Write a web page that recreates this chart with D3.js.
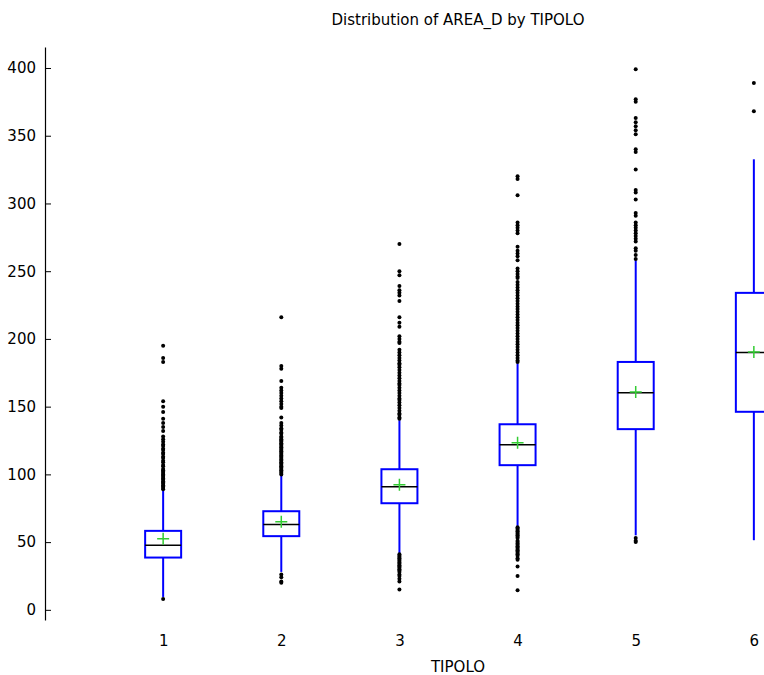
<!DOCTYPE html>
<html>
<head>
<meta charset="utf-8">
<script src="https://cdn.jsdelivr.net/npm/d3@7"></script>
<style>
  body { margin: 0; background: #fff; }
  svg { font-family: "DejaVu Sans", Verdana, sans-serif; }
</style>
</head>
<body>
<svg id="plot" width="764" height="675"></svg>
<script>
// values
const categories = ['1', '2', '3', '4', '5', '6'];
const q1 = [38.6, 54.4, 78.7, 106.8, 133.4, 146.2];
const medians = [47.7, 63, 90.8, 121.8, 160.2, 190];
const q3 = [58.3, 72.8, 103.8, 137, 183, 234];
const means = [52.4, 65, 92.3, 123.3, 160.8, 190.4];
const whiskerLow = [9.5, 28, 42, 62, 55, 51.4];
const whiskerHigh = [88, 99.5, 140, 182, 258, 332.6];
const outliers = [
  [195, 186, 183, 154, 150, 146, 141, 138, 135, 132, 128, 126, 124, 122, 121,
   119, 118, 116, 115, 113, 112, 110, 109, 107, 106, 104, 103, 102, 101, 100,
   99, 98, 97, 96, 95, 94, 93, 92, 91, 90, 89, 8],
  [216, 180, 178, 169, 164, 162, 160, 158, 156, 154, 152, 150, 149, 142, 138,
   136, 134, 133, 131, 130, 128, 127, 126, 125, 124, 123, 122, 121, 120, 119,
   118, 117, 116, 115, 114, 113, 112, 111, 110, 109, 108, 107, 106, 105, 104,
   103, 102, 101, 100, 26, 24, 21, 20],
  [270, 250, 247, 239, 236, 234, 232, 228, 216, 212, 209, 202, 200, 198, 197,
   192, 190, 188, 186, 184, 182, 181, 179, 177, 175, 173, 171, 169, 167, 166,
   164, 162, 160, 158, 156, 155, 153, 151, 149, 147, 145, 144, 142, 141,
   41, 40, 39, 38, 37, 36, 35, 34, 33, 32, 31, 30, 29, 28, 26, 25, 23, 21, 15],
  [320, 318, 306, 286, 284, 282, 280, 278, 268, 265, 263, 261, 258, 252, 250,
   248, 246, 245, 242, 240, 238, 236, 234, 232, 230, 228, 226, 224, 222, 220,
   218, 216, 214, 212, 210, 208, 206, 204, 202, 200, 198, 196, 194, 192, 190,
   188, 186, 184, 183,
   61, 60, 59, 58, 57, 56, 55, 54, 53, 51, 50, 49, 48, 47, 46, 45, 44, 43, 42,
   41, 40, 38, 37, 32, 25, 14.5],
  [399, 377, 375, 363, 360, 357, 354, 351, 340, 338, 325, 310, 308, 303, 293,
   291, 286, 284, 282, 280, 278, 276, 274, 272, 267, 265, 262, 259, 53, 51, 50],
  [389, 368]
];
const yTicks = [0, 50, 100, 150, 200, 250, 300, 350, 400];

const svg = d3.select('#plot');
const fontSize = 15;

const x = d3.scalePoint()
  .domain(categories)
  .range([45, 872])
  .padding(1);

const y = d3.scaleLinear()
  .domain([-7.5, 415.5])
  .range([620, 47]);

const boxWidth = 36;

// y axis, ticks pointing inward
const yAxis = svg.append('g')
  .attr('transform', 'translate(45,0)')
  .call(d3.axisLeft(y).tickValues(yTicks).tickSize(-6).tickSizeOuter(0).tickPadding(9));
yAxis.attr('font-family', null).attr('font-size', fontSize);
yAxis.selectAll('text').attr('fill', '#000');
yAxis.select('.domain').attr('stroke', '#000').attr('stroke-width', 1.2);
yAxis.selectAll('.tick line').attr('stroke', '#000');

// x axis labels only
const xAxis = svg.append('g')
  .attr('transform', 'translate(0,620)')
  .call(d3.axisBottom(x).tickSize(0).tickPadding(15));
xAxis.attr('font-family', null).attr('font-size', fontSize);
xAxis.select('.domain').remove();
xAxis.selectAll('text').attr('fill', '#000');

const boxes = categories.map((c, i) => ({
  c: c, q1: q1[i], med: medians[i], q3: q3[i], mean: means[i],
  lo: whiskerLow[i], hi: whiskerHigh[i], out: outliers[i]
}));

const g = svg.append('g');

// whiskers
g.selectAll('line.whisk-lo')
  .data(boxes).enter().append('line')
  .attr('x1', d => x(d.c)).attr('x2', d => x(d.c))
  .attr('y1', d => y(d.q1)).attr('y2', d => y(d.lo))
  .attr('stroke', '#0000ff').attr('stroke-width', 2);
g.selectAll('line.whisk-hi')
  .data(boxes).enter().append('line')
  .attr('x1', d => x(d.c)).attr('x2', d => x(d.c))
  .attr('y1', d => y(d.q3)).attr('y2', d => y(d.hi))
  .attr('stroke', '#0000ff').attr('stroke-width', 2);

// boxes
g.selectAll('rect')
  .data(boxes).enter().append('rect')
  .attr('x', d => x(d.c) - boxWidth / 2)
  .attr('width', boxWidth)
  .attr('y', d => y(d.q3))
  .attr('height', d => y(d.q1) - y(d.q3))
  .attr('fill', '#fff')
  .attr('stroke', '#0000ff').attr('stroke-width', 2);

// medians
g.selectAll('line.med')
  .data(boxes).enter().append('line')
  .attr('x1', d => x(d.c) - boxWidth / 2).attr('x2', d => x(d.c) + boxWidth / 2)
  .attr('y1', d => y(d.med)).attr('y2', d => y(d.med))
  .attr('stroke', '#000').attr('stroke-width', 1.5);

// means as green plus
g.selectAll('path.mean')
  .data(boxes).enter().append('path')
  .attr('d', d => {
    const cx = x(d.c), cy = y(d.mean);
    return 'M' + (cx - 6) + ',' + cy + 'H' + (cx + 6) + 'M' + cx + ',' + (cy - 6) + 'V' + (cy + 6);
  })
  .attr('stroke', '#33cc33').attr('stroke-width', 1.5).attr('fill', 'none');

// outliers
const pts = [];
boxes.forEach(d => d.out.forEach(v => pts.push([d.c, v])));
g.selectAll('circle')
  .data(pts).enter().append('circle')
  .attr('cx', d => x(d[0]))
  .attr('cy', d => y(d[1]))
  .attr('r', 2)
  .attr('fill', '#000');

// title and axis label
svg.append('text')
  .attr('x', 458).attr('y', 25)
  .attr('text-anchor', 'middle').attr('font-size', fontSize)
  .text('Distribution of AREA_D by TIPOLO');
svg.append('text')
  .attr('x', 458).attr('y', 672)
  .attr('text-anchor', 'middle').attr('font-size', fontSize)
  .text('TIPOLO');
</script>
</body>
</html>
